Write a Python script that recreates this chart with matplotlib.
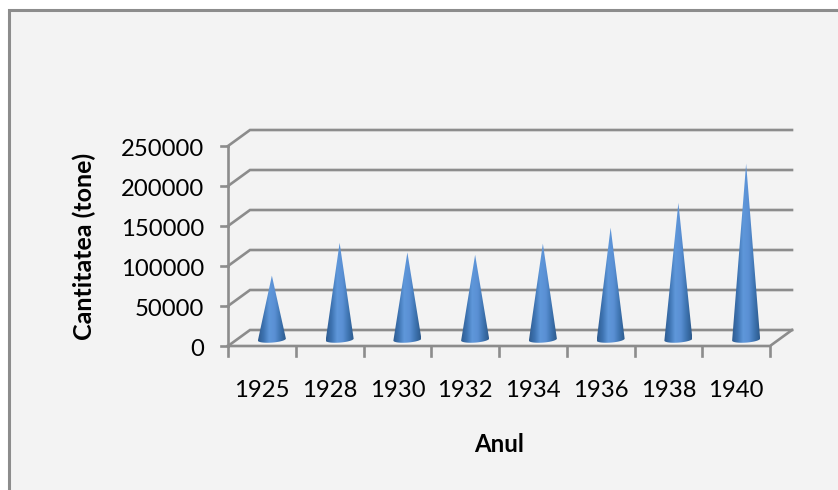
import numpy as np
import matplotlib
matplotlib.use('Agg')
import matplotlib.pyplot as plt
from matplotlib.colors import LinearSegmentedColormap
from matplotlib.patches import PathPatch, Rectangle
from matplotlib.path import Path

years = ['1925', '1928', '1930', '1932', '1934', '1936', '1938', '1940']
values = [80000, 121000, 109000, 106000, 120000, 140000, 171000, 220000]
y_ticks = [0, 50000, 100000, 150000, 200000, 250000]

W, H = 838, 490
plt.rcParams['font.family'] = ['Lato', 'DejaVu Sans']
fig = plt.figure(figsize=(W / 100, H / 100), dpi=100, facecolor='white')

# panel with the thick border on top and left
bg = fig.add_axes([0, 0, 1, 1])
bg.set_xlim(0, W)
bg.set_ylim(H, 0)
bg.axis('off')
bg.add_patch(Rectangle((9, 10), W + 20, H + 20, fc='#f3f3f3', ec='#8c8c8c', lw=2.2))

# plot area = front plane of the 3D box
left, right, bottom, top = 228, 770, 346, 146
ax = fig.add_axes([left / W, 1 - bottom / H, (right - left) / W, (bottom - top) / H])
ax.patch.set_visible(False)
ax.axis('off')
ax.set_xlim(0, len(years))
ax.set_ylim(0, 250000)

# depth of the box in data units
n = len(years)
cat_px = (right - left) / n
val_px = 250000 / (bottom - top)
dx = 22 / cat_px
dy = 16 * val_px
grid = '#8c8c8c'

for v in y_ticks:
    ax.plot([0, dx, n + dx], [v, v + dy, v + dy], color=grid, lw=1.9, clip_on=False,
            solid_joinstyle='miter')
    ax.plot([-0.1, 0], [v, v], color=grid, lw=1.9, clip_on=False)
    ax.text(-24 / cat_px, v - 3 * val_px, str(v), ha='right', va='center', fontsize=17.2, color='black')

# floor edge and front axes
ax.plot([0, n, n + dx], [0, 0, dy], color=grid, lw=1.9, clip_on=False)
ax.plot([0, 0], [0, 250000], color=grid, lw=1.9, clip_on=False)
for i in range(n + 1):
    ax.plot([i, i], [0, -12500], color=grid, lw=1.9, clip_on=False)

for i, lab in enumerate(years):
    ax.text(i + 0.5, -56000, lab, ha='center', va='center', fontsize=17.2, color='black')

# cones with a horizontal gradient, clipped to their outline
cone = LinearSegmentedColormap.from_list('cone', ['#2f5c90', '#3e74b2', '#5f97da', '#5a90d4', '#3f75b2', '#2e5a8c'])
grad = np.linspace(0, 1, 64).reshape(1, -1)
half = 14 / cat_px
base = 8000
ell = 3 * val_px
tilt = 1 * val_px
for i, v in enumerate(values):
    cx = i + 0.5 + 10 / cat_px
    t = np.linspace(np.pi, 2 * np.pi, 30)
    xs = cx + half * np.cos(t)
    ys = base + ell * np.sin(t) + tilt * np.cos(t)
    pts = [(cx, v + base)] + list(zip(xs, ys)) + [(cx, v + base)]
    path = Path(pts)
    im = ax.imshow(grad, extent=[cx - half, cx + half, 0, v + base + 2000], cmap=cone,
                   aspect='auto', interpolation='bilinear', zorder=5)
    im.set_clip_path(PathPatch(path, transform=ax.transData))

ax.set_xlim(0, n)
ax.set_ylim(0, 250000)

ax.text(0.5 * n, -123000, 'Anul', ha='center', va='center', fontsize=17.2, fontweight='bold')
ax.text(-144 / cat_px, 124000, 'Cantitatea (tone)', rotation=90, ha='center', va='center',
        fontsize=18, fontweight='bold')

fig.savefig('out.png', dpi=100)
